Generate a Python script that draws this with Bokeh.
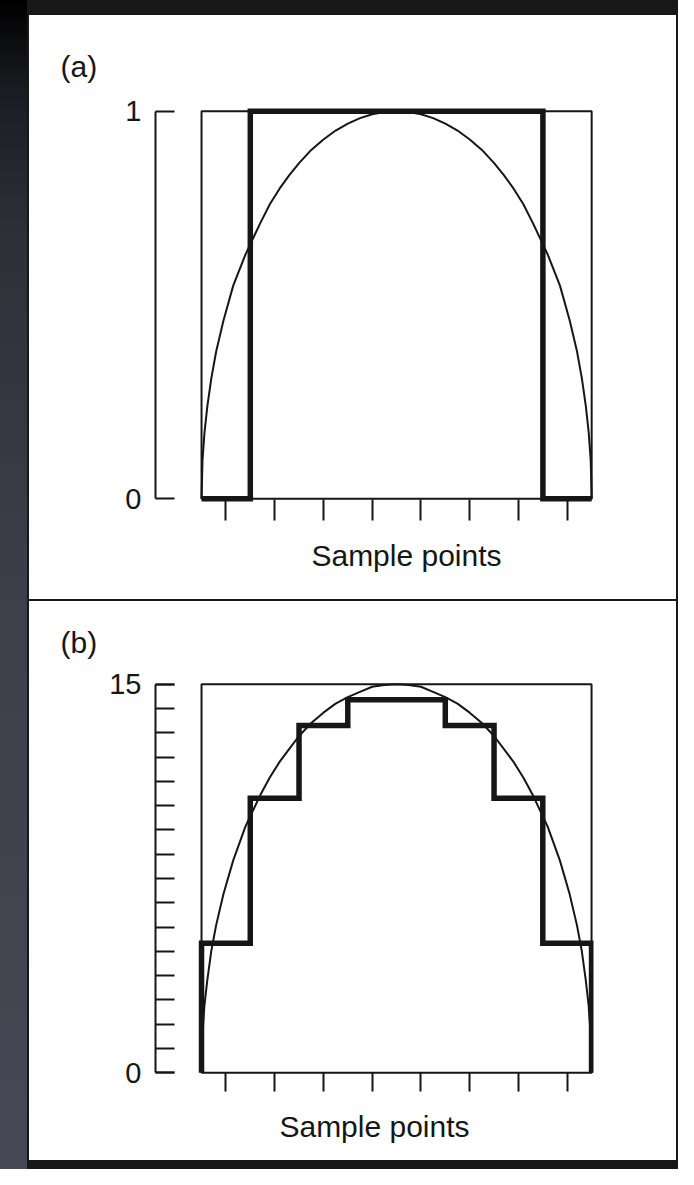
from bokeh.plotting import figure
from bokeh.models import Range1d, FixedTicker, Column
from bokeh.embed import file_html
from bokeh.resources import INLINE

# ---------------- data ----------------
bin_edges = [0, 1, 2, 3, 4, 5, 6, 7, 8]
sample_points = [0.5, 1.5, 2.5, 3.5, 4.5, 5.5, 6.5, 7.5]

# (a) rectangular window over the sample bins
window_a = [0, 1, 1, 1, 1, 1, 1, 0]
# (b) quantised levels (0..15 scale)
levels_b = [5.0, 10.6, 13.4, 14.4, 14.4, 13.4, 10.6, 5.0]

# smooth curve
curve_x = [0, 0.02, 0.06, 0.12, 0.2, 0.3, 0.45, 0.65, 0.9, 1.2, 1.4, 1.6, 1.8,
           2.0, 2.25, 2.5, 2.75, 3.0, 3.25, 3.5, 3.75, 4.0,
           4.25, 4.5, 4.75, 5.0, 5.25, 5.5, 5.75, 6.0, 6.2, 6.4, 6.6, 6.8,
           7.1, 7.35, 7.55, 7.7, 7.8, 7.88, 7.94, 7.98, 8.0]
curve_a = [0, 0.10, 0.17, 0.24, 0.31, 0.38, 0.46, 0.55, 0.63, 0.71, 0.76, 0.80, 0.835,
           0.866, 0.90, 0.927, 0.95, 0.968, 0.982, 0.992, 0.998, 1.0,
           0.998, 0.992, 0.982, 0.968, 0.95, 0.927, 0.90, 0.866, 0.835, 0.80, 0.76, 0.71,
           0.63, 0.55, 0.46, 0.38, 0.31, 0.24, 0.17, 0.10, 0]
curve_b = [0, 1.5, 2.6, 3.6, 4.7, 5.7, 6.9, 8.2, 9.5, 10.7, 11.4, 12.0, 12.5,
           13.0, 13.5, 13.9, 14.25, 14.5, 14.7, 14.9, 14.97, 15.0,
           14.97, 14.9, 14.7, 14.5, 14.25, 13.9, 13.5, 13.0, 12.5, 12.0, 11.4, 10.7,
           9.5, 8.2, 6.9, 5.7, 4.7, 3.6, 2.6, 1.5, 0]

y_ticks_a = [0, 1]
y_ticks_b = [0, 15]
y_minor_b = [i * 15 / 16 for i in range(17)]

panel_labels = ["(a)", "(b)"]
x_label = "Sample points"

INK = "#161616"
FONT = "Liberation Sans"


def step_path(edges, vals):
    xs = [edges[0]]
    ys = [0]
    for i, v in enumerate(vals):
        xs += [edges[i], edges[i + 1]]
        ys += [v, v]
    xs.append(edges[-1])
    ys.append(0)
    return xs, ys


def make_panel(label, height, x_end, y_pad, y_ticks, y_minor, min_top, min_bottom,
               min_right, cx, cy, steps, tick_in, tick_out, title_standoff):
    y_top = y_ticks[-1]
    p = figure(width=647, height=height,
               x_range=Range1d(-0.944, x_end),
               y_range=Range1d(-y_pad, y_top + y_pad),
               output_backend="svg", toolbar_location=None,
               min_border_left=126, min_border_right=min_right,
               min_border_top=min_top, min_border_bottom=min_bottom,
               background_fill_color="white", border_fill_color="white",
               outline_line_color=None,
               styles={"background-color": "white"})
    p.frame_align = False
    p.grid.visible = False

    p.title.text = label
    p.title.align = "left"
    p.title.offset = -95
    p.title.standoff = title_standoff
    p.title.text_font = FONT
    p.title.text_font_size = "30px"
    p.title.text_font_style = "normal"
    p.title.text_color = INK

    # x axis: sample-point ticks hanging under the box (no tick labels)
    xa = p.xaxis[0]
    xa.ticker = FixedTicker(ticks=[], minor_ticks=sample_points)
    xa.axis_line_color = None
    xa.major_tick_line_color = None
    xa.minor_tick_in = tick_in
    xa.minor_tick_out = tick_out
    xa.minor_tick_line_width = 2
    xa.minor_tick_line_color = INK
    xa.major_label_standoff = 0
    xa.axis_label = x_label
    xa.axis_label_text_font = FONT
    xa.axis_label_text_font_size = "30px"
    xa.axis_label_text_font_style = "normal"
    xa.axis_label_text_color = INK
    xa.axis_label_standoff = 18

    # y axis: bracket with inward ticks
    ya = p.yaxis[0]
    ya.ticker = FixedTicker(ticks=y_ticks, minor_ticks=y_minor)
    ya.bounds = (y_ticks[0], y_ticks[-1])
    ya.axis_line_width = 2
    ya.axis_line_color = INK
    ya.major_tick_in = 19
    ya.major_tick_out = 0
    ya.major_tick_line_width = 2
    ya.major_tick_line_color = INK
    ya.minor_tick_in = 19
    ya.minor_tick_out = 0
    ya.minor_tick_line_width = 2
    ya.minor_tick_line_color = INK
    ya.major_label_text_font = FONT
    ya.major_label_text_font_size = "29px"
    ya.major_label_text_color = INK
    ya.major_label_standoff = 14

    # box
    p.quad(left=[bin_edges[0]], right=[bin_edges[-1]], bottom=[y_ticks[0]], top=[y_top],
           fill_color=None, line_color=INK, line_width=2)
    # smooth curve
    p.line(cx, cy, line_color=INK, line_width=2)
    # thick stepped signal
    sx, sy = step_path(bin_edges, steps)
    p.line(sx, sy, line_color=INK, line_width=5.5, line_join="miter", line_cap="butt")
    return p


pa = make_panel(panel_labels[0], 584, 9.35, 0.012, y_ticks_a, [], 91, 96, 19,
                curve_x, curve_a, window_a, 4, 17, 48)
pb = make_panel(panel_labels[1], 559, 8.04, 0.18, y_ticks_b, y_minor_b, 78, 83, 83,
                curve_x, curve_b, levels_b, 5, 14, 42)

pa.margin = (15, 2, 0, 29)
pb.margin = (0, 2, 9, 29)

page = Column(children=[pa, pb], spacing=2,
              styles={"background": "linear-gradient(to right, rgba(0,0,0,0) 27px, #181818 27px), "
                                    "linear-gradient(to bottom, #000000 0%, #1c1d22 8%, #2e3038 20%, "
                                    "#3c3f49 50%, #464955 100%)"})

open("out.html", "w").write(file_html(page, INLINE))
